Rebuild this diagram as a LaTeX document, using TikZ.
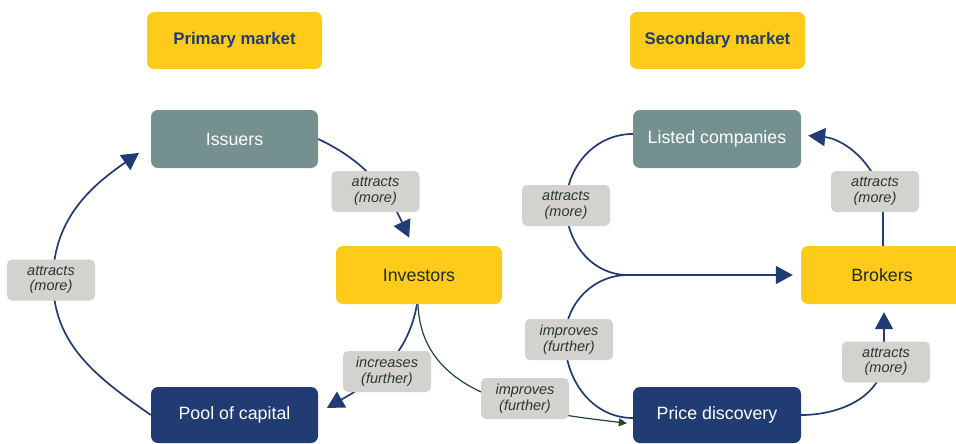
\documentclass[tikz,border=0pt]{standalone}
\usepackage{fontspec}
\setmainfont{Liberation Sans}
\usetikzlibrary{arrows.meta,backgrounds,calc}
\definecolor{yel}{HTML}{FECB1A}
\definecolor{tealc}{HTML}{74918F}
\definecolor{navy}{HTML}{213B73}
\definecolor{lblgray}{HTML}{D3D2CE}
\definecolor{lbltext}{HTML}{2B3634}
\definecolor{darktext}{HTML}{1F2A26}
\definecolor{greenline}{HTML}{1F4730}
\tikzset{
  box/.style={rounded corners=7pt, minimum width=167pt, minimum height=58pt, inner sep=0pt, font=\fontsize{17.8}{20}\selectfont},
  titlebox/.style={rounded corners=7pt, fill=yel, minimum width=175pt, minimum height=57pt, inner sep=0pt, text=navy, font=\fontsize{16.8}{20}\selectfont\bfseries},
  tealbox/.style={box, fill=tealc, text=white},
  yelbox/.style={box, fill=yel, text=darktext},
  navybox/.style={box, fill=navy, text=white},
  lbl/.style={fill=lblgray, rounded corners=5pt, minimum width=88pt, minimum height=41pt, inner sep=0pt, align=center, text=lbltext, font=\fontsize{14.5}{15.5}\selectfont\itshape},
  conn/.style={draw=navy, line width=1.7pt, -{Triangle[length=17pt,width=18pt]}},
  connplain/.style={draw=navy, line width=1.7pt},
  gconn/.style={draw=greenline, line width=1.2pt, -{Triangle[length=8pt,width=8pt]}}
}
\begin{document}
\begin{tikzpicture}[x=1pt,y=1pt]
\useasboundingbox (0,0) rectangle (956,-444);
% titles
\node[titlebox] (t1) at (234.5,-40.5) {Primary market};
\node[titlebox] (t2) at (717.5,-40.5) {Secondary market};
% boxes
\node[tealbox] (iss) at (234.5,-139) {Issuers};
\node[yelbox, minimum width=166pt] (inv) at (419,-275) {Investors};
\node[navybox, minimum height=56pt] (pool) at (234.5,-415) {Pool of capital};
\node[tealbox, minimum width=168pt] (listed) at (717,-139) {Listed companies};
\node[yelbox, minimum width=162pt] (brk) at (882,-275) {Brokers};
\node[navybox, minimum width=168pt, minimum height=56pt] (price) at (717,-415) {Price discovery};
% labels
\node[lbl] (L1) at (375.5,-191.5) {attracts\\(more)};
\node[lbl] (L2) at (51,-280) {attracts\\(more)};
\node[lbl] (L3) at (387,-371.5) {increases\\(further)};
\node[lbl] (L4) at (566,-205.5) {attracts\\(more)};
\node[lbl] (L5) at (875,-191.5) {attracts\\(more)};
\node[lbl] (L6) at (569,-339.5) {improves\\(further)};
\node[lbl] (L7) at (525,-398.5) {improves\\(further)};
\node[lbl] (L8) at (886,-362) {attracts\\(more)};
\coordinate (merge) at (628,-275);
\begin{scope}[on background layer]
\fill[white] (0,0) rectangle (956,-444);
% primary cycle
\draw[conn, shorten >=9pt] (iss.east) to[out=-25,in=115] ([xshift=-6pt]inv.north);
\draw[conn, shorten >=10pt] ([xshift=-2pt]inv.south) to[out=-100,in=30] ([yshift=2pt]pool.east);
\draw[conn, shorten >=12pt] (pool.west) to[out=145,in=-90] ([xshift=2pt]L2.center) to[out=90,in=-145] ($(iss.west)+(-2,-7)$);
% investors to price discovery
\draw[gconn, shorten >=6pt] ([xshift=-1pt]inv.south) to[out=-88,in=173] ([yshift=-9pt]price.west);
% secondary cycle
\draw[connplain] ([yshift=5pt]listed.west) to[out=180,in=90] (L4.center) to[out=-90,in=180] (merge);
\draw[connplain] ([yshift=-3pt]price.west) to[out=180,in=-90] ([xshift=-4pt]L6.center) to[out=90,in=180] (merge);
\draw[conn, shorten >=8pt] (merge) -- (brk.west);
\draw[conn, shorten >=7pt] ([xshift=1pt]brk.north) -- ([xshift=1pt,yshift=34pt]brk.north) to[out=90,in=-5] ([yshift=4pt]listed.east);
\draw[conn, shorten >=8pt] (price.east) to[out=0,in=-90] ([xshift=2pt,yshift=-52pt]brk.south) -- ([xshift=2pt]brk.south);
\end{scope}
\end{tikzpicture}
\end{document}
